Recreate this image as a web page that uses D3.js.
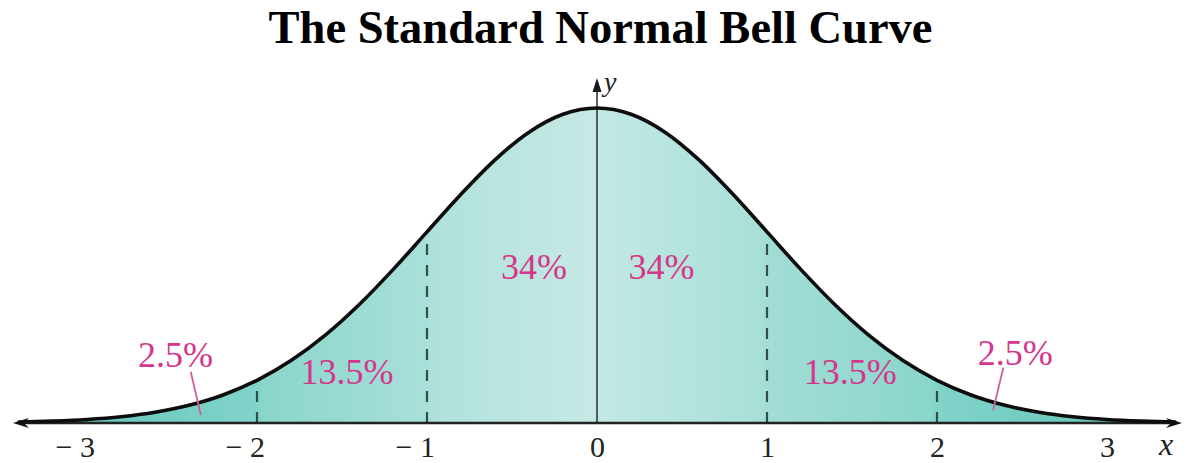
<!DOCTYPE html>
<html>
<head>
<meta charset="utf-8">
<script src="https://cdn.jsdelivr.net/npm/d3@7"></script>
<style>
  html, body { margin: 0; padding: 0; background: #fff; }
  svg { display: block; }
</style>
</head>
<body>
<svg id="chart" width="1197" height="463"></svg>
<script>
// ---- data ----
const curveX = [-3.4,-3.2,-3.0,-2.8,-2.6,-2.4,-2.2,-2.0,-1.8,-1.6,-1.4,-1.2,-1.0,-0.8,-0.6,-0.4,-0.2,0,
                0.2,0.4,0.6,0.8,1.0,1.2,1.4,1.6,1.8,2.0,2.2,2.4,2.6,2.8,3.0,3.2,3.4];
const curveY = [0.0012,0.0024,0.0044,0.0079,0.0136,0.0224,0.0355,0.0540,0.0790,0.1109,0.1497,0.1942,0.2420,0.2897,0.3332,0.3683,0.3910,0.3989,
                0.3910,0.3683,0.3332,0.2897,0.2420,0.1942,0.1497,0.1109,0.0790,0.0540,0.0355,0.0224,0.0136,0.0079,0.0044,0.0024,0.0012];
const tickValues = [-3,-2,-1,0,1,2,3];
const tickLabels = ["\u2212\u20053","\u2212\u20052","\u2212\u20051","0","1","2","3"];
const dividers = [-2,-1,1,2];
const pctLabels = ["2.5%","13.5%","34%","34%","13.5%","2.5%"];
const pctX = [-2.48,-1.47,-0.37,0.38,1.49,2.46];
const pctY = [0.071,0.049,0.182,0.182,0.049,0.073];
const pointerFrom = [[-2.39,0.065],[2.39,0.070]];
const pointerTo = [[-2.33,0.010],[2.33,0.016]];
const title = "The Standard Normal Bell Curve";

const SERIF = "'Liberation Serif', 'Times New Roman', Times, serif";

// ---- layout ----
const svg = d3.select("#chart");
const x = d3.scaleLinear().domain([-3.45, 3.45]).range([10.5, 1183.5]);
const y = d3.scaleLinear().domain([0, 0.3989]).range([423, 108]);
const pts = curveX.map((v, i) => [v, curveY[i]]);
const yAt = v => curveY[curveX.findIndex(c => Math.abs(c - v) < 1e-9)];

// gradient
const defs = svg.append("defs");
const grad = defs.append("linearGradient").attr("id", "fillGrad")
  .attr("gradientUnits", "userSpaceOnUse")
  .attr("x1", x(-3.4)).attr("x2", x(3.4)).attr("y1", 0).attr("y2", 0);
const stops = [[-3.4,"#5bc4b8"],[-2.0,"#82d3c9"],[-1.95,"#8ad6cc"],[-1.0,"#a8e0d9"],[-0.95,"#b0e2dc"],
               [-0.02,"#c6e9e4"],[0.02,"#c2e8e3"],[0.95,"#a8e0d8"],[1.0,"#a2ddd5"],[1.95,"#8ad6cc"],
               [2.0,"#82d3c9"],[3.4,"#5bc4b8"]];
grad.selectAll("stop").data(stops).join("stop")
  .attr("offset", d => (d[0] + 3.4) / 6.8)
  .attr("stop-color", d => d[1]);

// area
svg.append("path").datum(pts)
  .attr("d", d3.area().x(d => x(d[0])).y0(y(0)).y1(d => y(d[1])).curve(d3.curveMonotoneX))
  .attr("fill", "url(#fillGrad)");

// dashed dividers
svg.selectAll("line.div").data(dividers).join("line")
  .attr("class", "div")
  .attr("x1", d => x(d)).attr("x2", d => x(d))
  .attr("y1", y(0)).attr("y2", d => y(yAt(d)))
  .attr("stroke", "#2f4f4c").attr("stroke-width", 2.2)
  .attr("stroke-dasharray", "11,10");

// y axis
svg.append("line")
  .attr("x1", x(0)).attr("x2", x(0)).attr("y1", y(0)).attr("y2", 86)
  .attr("stroke", "#2a3e3c").attr("stroke-width", 1.6);
svg.append("path")
  .attr("d", `M${x(0)},78 L${x(0)-4.5},92 L${x(0)+4.5},92 Z`)
  .attr("fill", "#1a1a1a");
svg.append("text").attr("x", x(0) + 7).attr("y", 91)
  .attr("font-family", SERIF)
  .attr("font-size", 28).attr("font-style", "italic").attr("fill", "#222").text("y");

// x axis
const ax0 = 13, ax1 = 1182;
svg.append("line")
  .attr("x1", ax0 + 6).attr("x2", ax1 - 6).attr("y1", y(0)).attr("y2", y(0))
  .attr("stroke", "#222").attr("stroke-width", 2.4);
svg.append("path")
  .attr("d", `M${ax0},${y(0)} L${ax0+16},${y(0)-5} L${ax0+11},${y(0)} L${ax0+16},${y(0)+5} Z`)
  .attr("fill", "#111");
svg.append("path")
  .attr("d", `M${ax1},${y(0)} L${ax1-16},${y(0)-5} L${ax1-11},${y(0)} L${ax1-16},${y(0)+5} Z`)
  .attr("fill", "#111");

// small ticks at ±3
svg.selectAll("line.tk").data([-3, 3]).join("line")
  .attr("class", "tk")
  .attr("x1", d => x(d)).attr("x2", d => x(d))
  .attr("y1", y(0)).attr("y2", y(0) - 5)
  .attr("stroke", "#2f4f4c").attr("stroke-width", 1.5);

// tick labels (digit centred on tick)
svg.selectAll("text.tl").data(tickValues).join("text")
  .attr("class", "tl")
  .attr("x", d => x(d) + 8).attr("y", 457)
  .attr("text-anchor", "end")
  .attr("font-family", SERIF)
  .attr("font-size", 30).attr("fill", "#222")
  .text((d, i) => tickLabels[i]);

svg.append("text").attr("x", 1159).attr("y", 455)
  .attr("font-family", SERIF)
  .attr("font-size", 32).attr("font-style", "italic").attr("fill", "#222").text("x");

// curve
svg.append("path").datum(pts)
  .attr("d", d3.line().x(d => x(d[0])).y(d => y(d[1])).curve(d3.curveMonotoneX))
  .attr("fill", "none").attr("stroke", "#0d0d0d").attr("stroke-width", 3.6)
  .attr("stroke-linecap", "round");

// pointer lines
svg.selectAll("line.ptr").data([0, 1]).join("line")
  .attr("class", "ptr")
  .attr("x1", i => x(pointerFrom[i][0])).attr("y1", i => y(pointerFrom[i][1]))
  .attr("x2", i => x(pointerTo[i][0])).attr("y2", i => y(pointerTo[i][1]))
  .attr("stroke", "#cf5f9a").attr("stroke-width", 1.8);

// percent labels
svg.selectAll("text.pct").data(pctLabels).join("text")
  .attr("class", "pct")
  .attr("x", (d, i) => x(pctX[i])).attr("y", (d, i) => y(pctY[i]))
  .attr("text-anchor", "middle")
  .attr("font-family", SERIF)
  .attr("font-size", 36).attr("fill", "#d5368c")
  .text(d => d);

// title
svg.append("text").attr("x", 600.5).attr("y", 43)
  .attr("text-anchor", "middle").attr("font-size", 46.5).attr("font-weight", "bold")
  .attr("font-family", SERIF)
  .attr("fill", "#000").text(title);
</script>
</body>
</html>
